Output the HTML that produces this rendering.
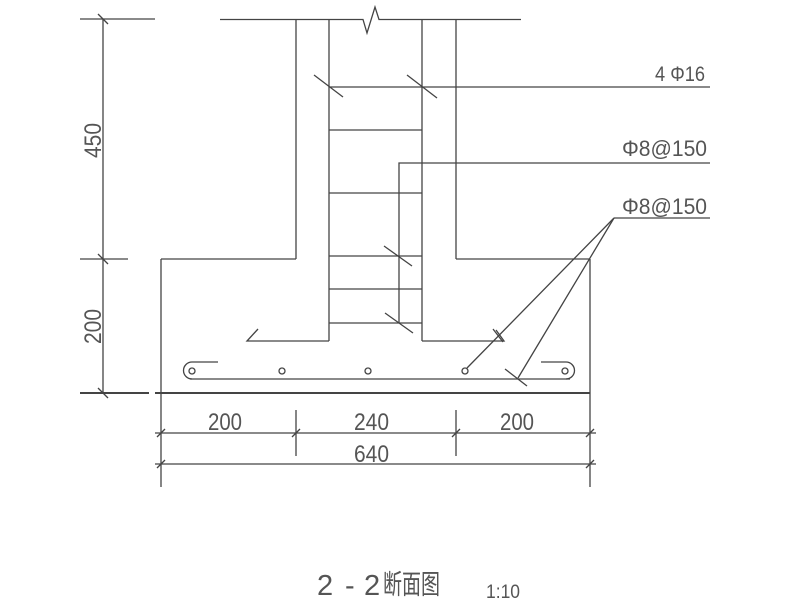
<!DOCTYPE html>
<html><head><meta charset="utf-8"><style>
html,body{margin:0;padding:0;background:#fff;width:800px;height:616px;overflow:hidden}
svg text{font-family:"Liberation Sans","Noto Sans CJK SC",sans-serif;fill:#555}
</style></head><body>
<svg width="800" height="616" viewBox="0 0 800 616" xmlns="http://www.w3.org/2000/svg">
<g stroke="#444" stroke-width="1.3" fill="none">
<polyline points="220,19.5 363,19.5 367,33 375,7 379,19.5 521,19.5"/>
<line x1="296" y1="19" x2="296" y2="259"/>
<line x1="456" y1="19" x2="456" y2="259"/>
<line x1="329" y1="19" x2="329" y2="341"/>
<line x1="422" y1="19" x2="422" y2="341"/>
<line x1="161" y1="259" x2="296" y2="259"/>
<line x1="456" y1="259" x2="590" y2="259"/>
<line x1="161" y1="259" x2="161" y2="487"/>
<line x1="590" y1="259" x2="590" y2="487"/>
<line x1="155" y1="393" x2="590" y2="393" stroke-width="2"/>
<line x1="80" y1="393" x2="149" y2="393" stroke-width="2"/>
<line x1="103" y1="19" x2="103" y2="393"/>
<line x1="80" y1="19" x2="155" y2="19"/>
<line x1="80" y1="259" x2="128" y2="259"/>
<line x1="98" y1="14" x2="108" y2="24"/>
<line x1="98" y1="254" x2="108" y2="264"/>
<line x1="98" y1="388" x2="108" y2="398"/>
<line x1="329" y1="87" x2="710" y2="87"/>
<line x1="329" y1="130" x2="422" y2="130"/>
<line x1="329" y1="193" x2="422" y2="193"/>
<line x1="329" y1="256" x2="422" y2="256"/>
<line x1="329" y1="289" x2="422" y2="289"/>
<line x1="329" y1="323" x2="422" y2="323"/>
<line x1="314" y1="75" x2="343" y2="97"/>
<line x1="407" y1="75" x2="437" y2="98"/>
<polyline points="710,163 399,163 399,323"/>
<line x1="384" y1="246" x2="412" y2="266"/>
<line x1="385" y1="313" x2="413" y2="333"/>
<polyline points="258,329 247,341 329,341"/>
<polyline points="422,341 504,341 496,330"/>
<line x1="493" y1="329" x2="503" y2="342"/>
<line x1="190" y1="379" x2="570" y2="379"/>
<path d="M218,362 L192,362 A8.5,8.5 0 0 0 192,379"/>
<path d="M541,362 L566,362 A8.5,8.5 0 0 1 566,379"/>
<circle cx="192" cy="371" r="3"/>
<circle cx="282" cy="371" r="3"/>
<circle cx="368" cy="371" r="3"/>
<circle cx="465" cy="371" r="3"/>
<circle cx="565" cy="371" r="3"/>
<line x1="614" y1="218" x2="710" y2="218"/>
<line x1="614" y1="218" x2="467" y2="368"/>
<line x1="614" y1="218" x2="518" y2="378"/>
<line x1="505" y1="369" x2="527" y2="386"/>
<line x1="155" y1="433" x2="596" y2="433"/>
<line x1="155" y1="464" x2="596" y2="464"/>
<line x1="296" y1="410" x2="296" y2="456"/>
<line x1="456" y1="410" x2="456" y2="456"/>
<line x1="157" y1="437" x2="165" y2="429"/>
<line x1="292" y1="437" x2="300" y2="429"/>
<line x1="452" y1="437" x2="460" y2="429"/>
<line x1="586" y1="437" x2="594" y2="429"/>
<line x1="157" y1="468" x2="165" y2="460"/>
<line x1="586" y1="468" x2="594" y2="460"/>
</g>
<g font-size="24">
<text x="705" y="81" text-anchor="end" textLength="50" lengthAdjust="spacingAndGlyphs" font-size="21">4 Φ16</text>
<text x="707" y="156" text-anchor="end" textLength="85" lengthAdjust="spacingAndGlyphs" font-size="22">Φ8@150</text>
<text x="707" y="214" text-anchor="end" textLength="85" lengthAdjust="spacingAndGlyphs" font-size="22">Φ8@150</text>
<text x="208" y="430" textLength="34" lengthAdjust="spacingAndGlyphs">200</text>
<text x="354" y="430" textLength="35" lengthAdjust="spacingAndGlyphs">240</text>
<text x="500" y="430" textLength="34" lengthAdjust="spacingAndGlyphs">200</text>
<text x="354" y="462" textLength="35" lengthAdjust="spacingAndGlyphs">640</text>
<text transform="translate(101,158) rotate(-90)" textLength="35" lengthAdjust="spacingAndGlyphs">450</text>
<text transform="translate(101,344) rotate(-90)" textLength="35" lengthAdjust="spacingAndGlyphs">200</text>
</g>
<g font-size="29">
<text x="317" y="595">2</text>
<text x="345" y="595">-</text>
<text x="364" y="595">2</text>
<text x="383" y="594" textLength="57" lengthAdjust="spacingAndGlyphs" font-size="27">断面图</text>
</g>
<text x="486" y="598" font-size="19" textLength="34" lengthAdjust="spacingAndGlyphs">1:10</text>
</svg>
</body></html>
